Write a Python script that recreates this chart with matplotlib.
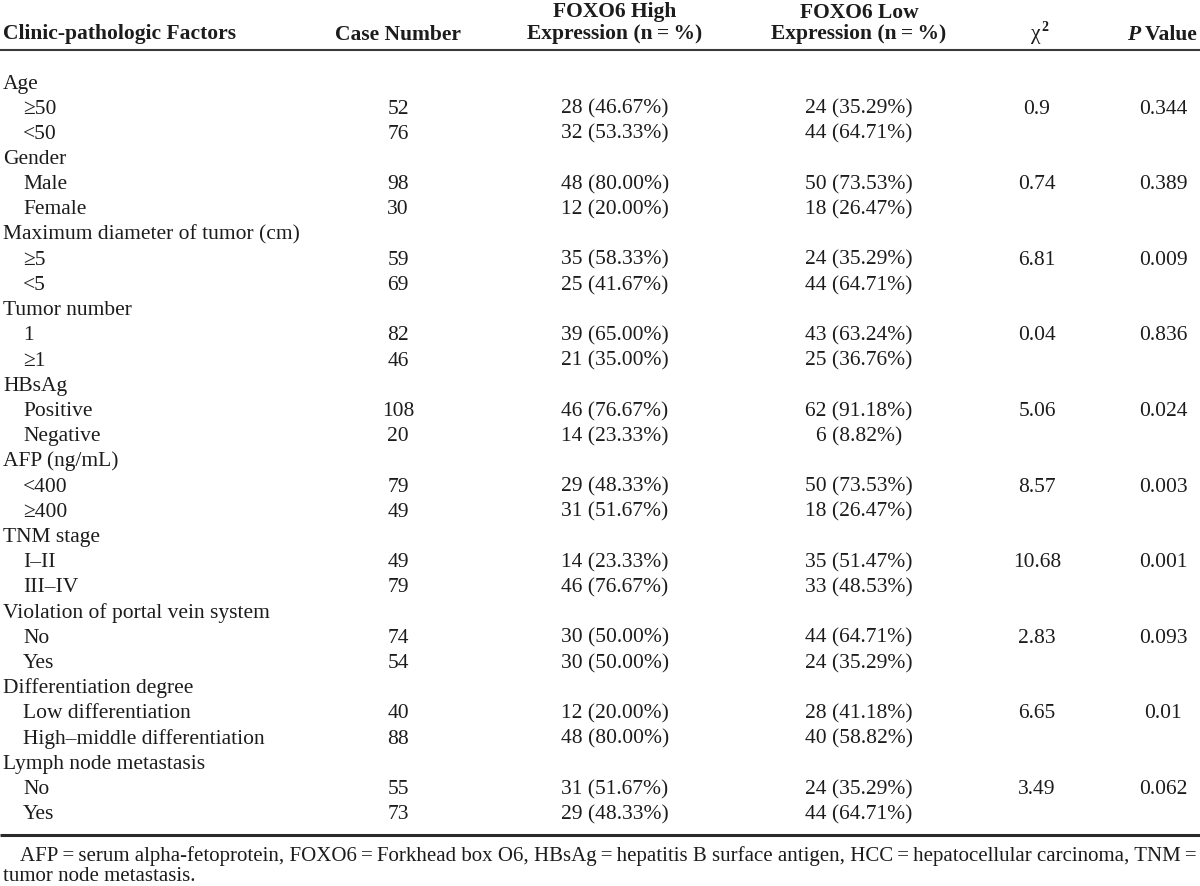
import matplotlib
matplotlib.use("Agg")
import matplotlib.pyplot as plt

# ---------------- data ----------------
groups = ["Age", "Gender", "Maximum diameter of tumor (cm)", "Tumor number", "HBsAg",
          "AFP (ng/mL)", "TNM stage", "Violation of portal vein system",
          "Differentiation degree", "Lymph node metastasis"]
sub_labels = [["\u226550", "<50"], ["Male", "Female"], ["\u22655", "<5"], ["1", "\u22651"],
              ["Positive", "Negative"], ["<400", "\u2265400"], ["I\u2013II", "III\u2013IV"],
              ["No", "Yes"], ["Low differentiation", "High\u2013middle differentiation"],
              ["No", "Yes"]]
case_numbers = [[52, 76], [98, 30], [59, 69], [82, 46], [108, 20], [79, 49], [49, 79],
                [74, 54], [40, 88], [55, 73]]
high_counts = [[28, 32], [48, 12], [35, 25], [39, 21], [46, 14], [29, 31], [14, 46],
               [30, 30], [12, 48], [31, 29]]
high_pct = [["46.67", "53.33"], ["80.00", "20.00"], ["58.33", "41.67"], ["65.00", "35.00"],
            ["76.67", "23.33"], ["48.33", "51.67"], ["23.33", "76.67"], ["50.00", "50.00"],
            ["20.00", "80.00"], ["51.67", "48.33"]]
low_counts = [[24, 44], [50, 18], [24, 44], [43, 25], [62, 6], [50, 18], [35, 33],
              [44, 24], [28, 40], [24, 44]]
low_pct = [["35.29", "64.71"], ["73.53", "26.47"], ["35.29", "64.71"], ["63.24", "36.76"],
           ["91.18", "8.82"], ["73.53", "26.47"], ["51.47", "48.53"], ["64.71", "35.29"],
           ["41.18", "58.82"], ["35.29", "64.71"]]
chi2_values = ["0.9", "0.74", "6.81", "0.04", "5.06", "8.57", "10.68", "2.83", "6.65", "3.49"]
p_values = ["0.344", "0.389", "0.009", "0.836", "0.024", "0.003", "0.001", "0.093", "0.01", "0.062"]
footnote_lines = [
    "AFP\u2009=\u2009serum alpha-fetoprotein, FOXO6\u2009=\u2009Forkhead box O6, HBsAg\u2009=\u2009hepatitis B surface antigen, HCC\u2009=\u2009hepatocellular carcinoma, TNM\u2009=",
    "tumor node metastasis.",
]

# ---------------- layout ----------------
W, H = 1200, 887
fig = plt.figure(figsize=(W / 100, H / 100), dpi=100)
ax = fig.add_axes([0, 0, 1, 1])
ax.set_xlim(0, W)
ax.set_ylim(H, 0)
ax.axis("off")

FONT = "Liberation Serif"
FS = 15.5
COL = "#1c1c1c"
BASE = 6.5  # baseline offset from visual centre

x_left, x_indent = 3, 23
x_case, x_high, x_low, x_chi, x_p = 398, 615, 859, 1037, 1163

def txt(x, y, s, ha="left", weight="normal", style="normal", size=FS):
    ax.text(x, y + BASE, s, ha=ha, va="baseline", fontfamily=FONT, fontsize=size,
            fontweight=weight, fontstyle=style, color=COL)

# header
y1, y2 = 11, 33
txt(x_left, y2, "Clinic-pathologic Factors", weight="bold")
txt(x_case, y2, "Case Number", ha="center", weight="bold")
txt(x_high, y1, "FOXO6 High", ha="center", weight="bold")
txt(x_high, y2, "Expression (n\u2009=\u2009%)", ha="center", weight="bold")
txt(x_low, y1, "FOXO6 Low", ha="center", weight="bold")
txt(x_low, y2, "Expression (n\u2009=\u2009%)", ha="center", weight="bold")
txt(x_chi + 4, y2, "\u03c7", ha="right")
ax.text(x_chi + 4, y2 - 2, "2", ha="left", va="baseline", fontfamily=FONT,
        fontsize=FS * 0.65, fontweight="bold", color=COL)
txt(x_p - 23, y2, "P", ha="right", weight="bold", style="italic")
txt(x_p - 23, y2, " Value", ha="left", weight="bold")

ax.plot([0, W], [51, 51], color="#3a3a3a", lw=1.5, solid_capstyle="butt")

# body
y0, step = 82, 25.2
row = 0
for g in range(len(groups)):
    txt(x_left, y0 + step * row, groups[g])
    row += 1
    for k in range(2):
        y = y0 + step * row
        txt(x_indent, y, sub_labels[g][k])
        txt(x_case, y, str(case_numbers[g][k]), ha="center")
        txt(x_high, y, f"{high_counts[g][k]} ({high_pct[g][k]}%)", ha="center")
        txt(x_low, y, f"{low_counts[g][k]} ({low_pct[g][k]}%)", ha="center")
        if k == 0:
            txt(x_chi, y, chi2_values[g], ha="center")
            txt(x_p, y, p_values[g], ha="center")
        row += 1

ax.plot([0, W], [836, 836], color="#2a2a2a", lw=2.2, solid_capstyle="butt")

# footnote
txt(20, 855, footnote_lines[0], size=15.0)
txt(3, 874.5, footnote_lines[1], size=15.0)

fig.savefig("out.png", dpi=100)
